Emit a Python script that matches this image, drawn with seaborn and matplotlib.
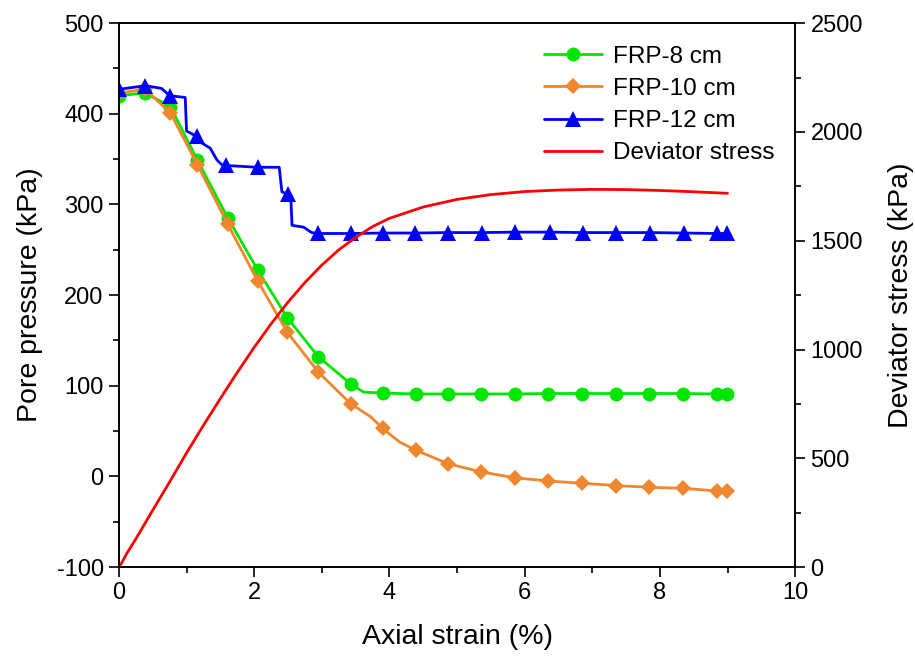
import numpy as np
import pandas as pd
import matplotlib
matplotlib.use("Agg")
import matplotlib.pyplot as plt
from matplotlib.lines import Line2D
from matplotlib.ticker import MultipleLocator
import seaborn as sns

# ---- data -------------------------------------------------------------
# FRP-8 cm: pore pressure curve (kPa) vs axial strain (%)
frp8_strain = [0, 0.39, 0.76, 1.16, 1.61, 2.05, 2.49, 2.95, 3.43, 3.62, 3.90,
               4.39, 4.87, 5.36, 5.86, 6.35, 6.85, 7.35, 7.84, 8.34, 8.84, 8.99]
frp8_pp = [420, 423, 408, 349, 285, 228, 175, 132, 102, 93, 92,
           91, 91, 91, 91, 91.5, 91.5, 91.5, 91.5, 91.5, 91, 91]
frp8_mark_strain = [0, 0.39, 0.76, 1.16, 1.61, 2.05, 2.49, 2.95, 3.43, 3.90,
                    4.39, 4.87, 5.36, 5.86, 6.35, 6.85, 7.35, 7.84, 8.34, 8.84, 8.99]
frp8_mark_pp = [420, 423, 408, 349, 285, 228, 175, 132, 102, 92,
                91, 91, 91, 91, 91.5, 91.5, 91.5, 91.5, 91.5, 91, 91]

# FRP-10 cm
frp10_strain = [0, 0.39, 0.76, 1.16, 1.61, 2.05, 2.49, 2.95, 3.43, 3.72, 3.90,
                4.15, 4.39, 4.87, 5.36, 5.86, 6.35, 6.85, 7.35, 7.84, 8.34, 8.84, 8.99]
frp10_pp = [423, 427, 401, 344, 278, 216, 159, 115, 80, 66, 53,
            38, 29, 14, 5, -1.5, -5, -7.5, -10, -12, -13, -16, -16.5]
frp10_mark_strain = [0, 0.39, 0.76, 1.16, 1.61, 2.05, 2.49, 2.95, 3.43, 3.90,
                     4.39, 4.87, 5.36, 5.86, 6.35, 6.85, 7.35, 7.84, 8.34, 8.84, 8.99]
frp10_mark_pp = [423, 427, 401, 344, 278, 216, 159, 115, 80, 53,
                 29, 14, 5, -1.5, -5, -7.5, -10, -12, -13, -16, -16.5]

# FRP-12 cm (stepped response)
frp12_strain = [0, 0.39, 0.63, 0.75, 0.98, 1.00, 1.15, 1.20, 1.35, 1.45, 1.52,
                1.59, 2.05, 2.37, 2.41, 2.50, 2.54, 2.56, 2.73, 2.85, 2.95,
                3.43, 3.90, 4.38, 4.87, 5.37, 5.86, 6.37, 6.86, 7.35, 7.85,
                8.35, 8.84, 8.99]
frp12_pp = [427, 431, 428, 420, 418, 381, 375, 369, 362, 349, 344,
            343, 341, 341, 314, 311, 310, 277, 275, 269, 268,
            268, 268.5, 268.5, 269, 269, 269.5, 269.5, 269, 269, 269,
            268.5, 268, 268]
frp12_mark_strain = [0, 0.39, 0.75, 1.15, 1.59, 2.05, 2.50, 2.95, 3.43, 3.90,
                     4.38, 4.87, 5.37, 5.86, 6.37, 6.86, 7.35, 7.85, 8.35, 8.84, 8.99]
frp12_mark_pp = [427, 431, 420, 375, 343, 341, 311, 268, 268, 268.5,
                 268.5, 269, 269, 269.5, 269.5, 269, 269, 269, 268.5, 268, 268]

# Deviator stress (kPa) vs axial strain (%)
dev_strain = [0, 0.05, 0.12, 0.2, 0.25, 0.5, 0.75, 1.0, 1.25, 1.5, 1.75, 2.0,
              2.25, 2.5, 2.75, 3.0, 3.25, 3.5, 3.75, 4.0, 4.5, 5.0, 5.5,
              6.0, 6.5, 7.0, 7.5, 8.0, 8.5, 9.0]
dev_stress = [0, 25, 65, 105, 130, 262, 392, 525, 652, 775, 895, 1010,
              1118, 1218, 1308, 1388, 1458, 1515, 1565, 1603, 1655, 1690, 1712,
              1726, 1733, 1736, 1735, 1731, 1725, 1718]

# ---- style ------------------------------------------------------------
sns.set_style("ticks")
plt.rcParams["font.family"] = ["Liberation Sans", "DejaVu Sans"]
plt.rcParams["axes.unicode_minus"] = False
plt.rcParams["text.color"] = "black"
plt.rcParams["axes.labelcolor"] = "black"
plt.rcParams["xtick.color"] = "black"
plt.rcParams["ytick.color"] = "black"

GREEN = "#00E600"
ORANGE = "#F0862E"
BLUE = "#0000FF"
RED = "#FF0000"
LW = 2.0
TICK_FS = 17
LABEL_FS = 20.5
LEGEND_FS = 17.5

fig = plt.figure(figsize=(9.15, 6.61), dpi=100)
ax = fig.add_axes([0.130, 0.142, 0.739, 0.823])
ax2 = ax.twinx()


def draw(axis, xs, ys, mx, my, color, marker, ms):
    sns.lineplot(x=xs, y=ys, ax=axis, color=color, lw=LW,
                 estimator=None, sort=False, legend=False)
    if mx is not None:
        sns.lineplot(x=mx, y=my, ax=axis, color=color, linestyle="none",
                     marker=marker, markersize=ms, markeredgewidth=0,
                     estimator=None, sort=False, legend=False)


MS = {"o": 10, "D": 8.5, "^": 11}
draw(ax, frp8_strain, frp8_pp, frp8_mark_strain, frp8_mark_pp, GREEN, "o", MS["o"])
draw(ax, frp10_strain, frp10_pp, frp10_mark_strain, frp10_mark_pp, ORANGE, "D", MS["D"])
draw(ax, frp12_strain, frp12_pp, frp12_mark_strain, frp12_mark_pp, BLUE, "^", MS["^"])
draw(ax2, dev_strain, dev_stress, None, None, RED, None, 0)

# ---- axes -------------------------------------------------------------
ax.set_xlim(0, 10)
ax.set_ylim(-100, 500)
ax2.set_ylim(0, 2500)

ax.xaxis.set_major_locator(MultipleLocator(2))
ax.xaxis.set_minor_locator(MultipleLocator(1))
ax.yaxis.set_major_locator(MultipleLocator(100))
ax.yaxis.set_minor_locator(MultipleLocator(50))
ax2.yaxis.set_major_locator(MultipleLocator(500))
ax2.yaxis.set_minor_locator(MultipleLocator(250))

for a in (ax, ax2):
    a.tick_params(which="major", direction="out", length=7, width=1.2,
                  labelsize=TICK_FS, pad=4)
    a.tick_params(which="minor", direction="out", length=4, width=1.2)
    for s in a.spines.values():
        s.set_visible(True)
        s.set_linewidth(1.2)
        s.set_color("black")
ax.tick_params(axis="x", which="both", top=False)
ax.tick_params(axis="y", which="both", right=False)

ax.set_xlabel("Axial strain (%)", fontsize=LABEL_FS, labelpad=14)
ax.set_ylabel("Pore pressure (kPa)", fontsize=LABEL_FS, labelpad=10)
ax2.set_ylabel("Deviator stress (kPa)", fontsize=LABEL_FS, labelpad=18)

# ---- legend -----------------------------------------------------------
handles = [
    Line2D([], [], color=GREEN, lw=LW, marker="o", markersize=MS["o"], markeredgewidth=0),
    Line2D([], [], color=ORANGE, lw=LW, marker="D", markersize=MS["D"], markeredgewidth=0),
    Line2D([], [], color=BLUE, lw=LW, marker="^", markersize=MS["^"], markeredgewidth=0),
    Line2D([], [], color=RED, lw=LW),
]
labels = ["FRP-8 cm", "FRP-10 cm", "FRP-12 cm", "Deviator stress"]
ax2.legend(handles, labels, loc="upper right", bbox_to_anchor=(0.995, 0.99),
           frameon=False, fontsize=LEGEND_FS, handlelength=2.4, handletextpad=0.45,
           labelspacing=0.42, borderaxespad=0.3)

fig.savefig("out.png", dpi=100)
